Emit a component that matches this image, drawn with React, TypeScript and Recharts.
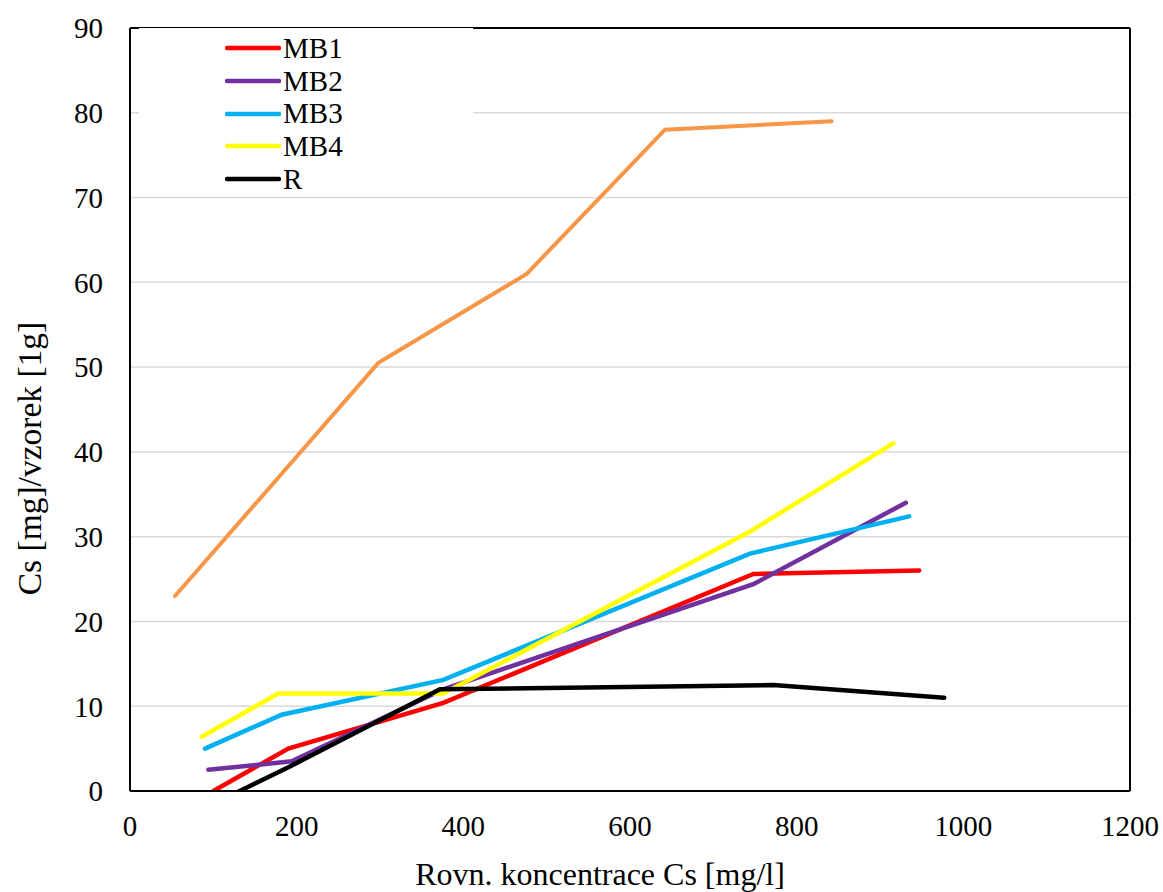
import React from "react";
import {
  LineChart,
  Line,
  XAxis,
  YAxis,
  CartesianGrid,
  Legend,
  ReferenceLine,
  Label,
} from "recharts";

// points: [concentration mg/l, Cs mg per 1 g sample]
const mb1 = [
  { x: 100, y: 0 },
  { x: 190, y: 5 },
  { x: 376, y: 10.4 },
  { x: 748, y: 25.6 },
  { x: 947, y: 26 },
];
const mb2 = [
  { x: 94, y: 2.5 },
  { x: 194, y: 3.5 },
  { x: 376, y: 12 },
  { x: 748, y: 24.4 },
  { x: 931, y: 34 },
];
const mb3 = [
  { x: 90, y: 5 },
  { x: 182, y: 9 },
  { x: 376, y: 13.1 },
  { x: 744, y: 28 },
  { x: 935, y: 32.4 },
];
const mb4 = [
  { x: 86, y: 6.4 },
  { x: 178, y: 11.5 },
  { x: 376, y: 11.5 },
  { x: 744, y: 30.6 },
  { x: 916, y: 41 },
];
const rRef = [
  { x: 115, y: -0.8 },
  { x: 192, y: 2.9 },
  { x: 372, y: 12 },
  { x: 772, y: 12.5 },
  { x: 977, y: 11 },
];
// orange series has no legend entry
const unnamed = [
  { x: 54, y: 23 },
  { x: 298, y: 50.5 },
  { x: 476, y: 61 },
  { x: 642, y: 78 },
  { x: 842, y: 79 },
];

const xTicks = [0, 200, 400, 600, 800, 1000, 1200];
const yTicks = [0, 10, 20, 30, 40, 50, 60, 70, 80, 90];

const font = "'Liberation Serif', 'Times New Roman', serif";
const tickStyle = { fontFamily: font, fontSize: 29, fill: "#000" };
const titleStyle = { fontFamily: font, fontSize: 32, fill: "#000" };

function SeriesLegend({ payload }: any) {
  const items = (payload || []).filter((p: any) => p.type !== "none");
  return (
    <div
      style={{
        background: "#fff",
        width: 334,
        height: 167,
        paddingTop: 4,
        boxSizing: "border-box",
        fontFamily: font,
      }}
    >
      {items.map((p: any) => (
        <div
          key={p.value}
          style={{ display: "flex", alignItems: "center", height: 32.7, paddingLeft: 86 }}
        >
          <svg width={56} height={8} style={{ display: "block" }}>
            <line
              x1={2}
              y1={4}
              x2={54}
              y2={4}
              stroke={p.color}
              strokeWidth={4.5}
              strokeLinecap="round"
            />
          </svg>
          <span
            style={{
              fontFamily: font,
              fontSize: 29,
              color: "#000",
              lineHeight: 1,
              marginLeft: 2,
            }}
          >
            {p.value}
          </span>
        </div>
      ))}
    </div>
  );
}

export default function App() {
  return (
    <div style={{ position: "absolute", left: 0, top: 0, background: "#fff" }}>
      <LineChart
        width={1163}
        height={892}
        margin={{ top: 28, right: 33, left: 0, bottom: 0 }}
      >
        <CartesianGrid vertical={false} stroke="#d9d9d9" strokeWidth={1.5} />
        <XAxis
          type="number"
          dataKey="x"
          domain={[0, 1200]}
          ticks={xTicks}
          allowDataOverflow
          height={101}
          tickLine={false}
          tickSize={0}
          tickMargin={24}
          axisLine={{ stroke: "#000", strokeWidth: 2 }}
          tick={tickStyle}
        >
          <Label
            value="Rovn. koncentrace Cs [mg/l]"
            position="center"
            dx={-30}
            dy={32}
            style={titleStyle}
          />
        </XAxis>
        <YAxis
          type="number"
          dataKey="y"
          domain={[0, 90]}
          ticks={yTicks}
          allowDataOverflow
          width={130}
          tickLine={false}
          tickSize={0}
          tickMargin={27}
          axisLine={{ stroke: "#000", strokeWidth: 2 }}
          tick={tickStyle}
        >
          <Label
            value="Cs [mg]/vzorek [1g]"
            position="center"
            angle={-90}
            dx={-36}
            dy={49}
            style={{ ...titleStyle, fontSize: 33.5, textAnchor: "middle" }}
          />
        </YAxis>
        <ReferenceLine y={90} stroke="#000" strokeWidth={2} />
        <ReferenceLine x={1200} stroke="#000" strokeWidth={2} />
        <Legend
          layout="vertical"
          align="center"
          verticalAlign="middle"
          content={<SeriesLegend />}
          wrapperStyle={{ left: 139, top: 28, width: 334 }}
        />
        <Line data={mb1} dataKey="y" name="MB1" stroke="#ff0000" strokeWidth={4.5} strokeLinecap="round" dot={false} isAnimationActive={false} />
        <Line data={mb2} dataKey="y" name="MB2" stroke="#7030a0" strokeWidth={4.5} strokeLinecap="round" dot={false} isAnimationActive={false} />
        <Line data={mb3} dataKey="y" name="MB3" stroke="#00b0f0" strokeWidth={4.5} strokeLinecap="round" dot={false} isAnimationActive={false} />
        <Line data={mb4} dataKey="y" name="MB4" stroke="#ffff00" strokeWidth={4.5} strokeLinecap="round" dot={false} isAnimationActive={false} />
        <Line data={rRef} dataKey="y" name="R" stroke="#000000" strokeWidth={4.5} strokeLinecap="round" dot={false} isAnimationActive={false} />
        <Line data={unnamed} dataKey="y" name="other" legendType="none" stroke="#f79646" strokeWidth={4} strokeLinecap="round" dot={false} isAnimationActive={false} />
      </LineChart>
    </div>
  );
}
